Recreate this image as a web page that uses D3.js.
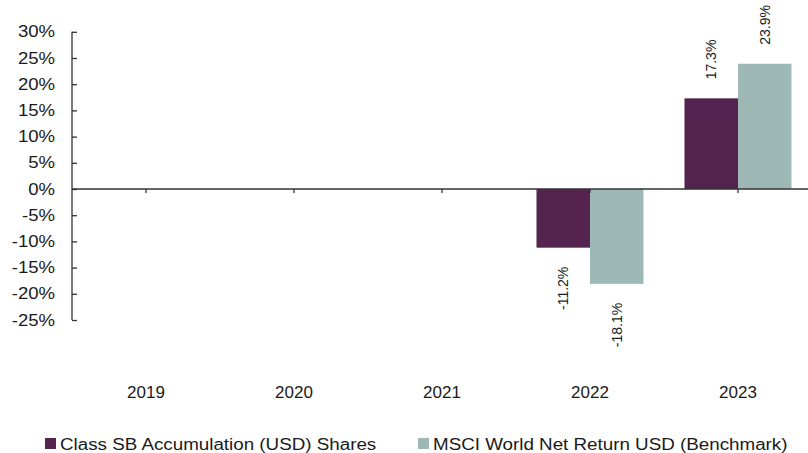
<!DOCTYPE html>
<html>
<head>
<meta charset="utf-8">
<script src="https://cdn.jsdelivr.net/npm/d3@7"></script>
<style>
  html, body { margin: 0; padding: 0; background: #fff; }
  svg { display: block; font-family: "Liberation Sans", Arial, sans-serif; }
</style>
</head>
<body>
<svg id="chart" width="808" height="453"></svg>
<script>
// Calendar-year performance
const years = ["2019", "2020", "2021", "2022", "2023"];
const seriesNames = ["Class SB Accumulation (USD) Shares", "MSCI World Net Return USD (Benchmark)"];
const fundReturns = [null, null, null, -11.2, 17.3];
const benchmarkReturns = [null, null, null, -18.1, 23.9];
const yTicks = [30, 25, 20, 15, 10, 5, 0, -5, -10, -15, -20, -25];
const colors = ["#55234f", "#9db8b5"];

const FONT = "Liberation Sans, Arial, sans-serif";
const svg = d3.select("#chart");
const plotLeft = 72, plotRight = 812, plotTop = 31.8, plotBottom = 320;

const x = d3.scaleBand().domain(years).range([plotLeft, plotRight]);
const inner = d3.scaleBand().domain([0, 1]).range([0, x.bandwidth()]).paddingInner(0).paddingOuter(0.383);
const y = d3.scaleLinear().domain([-25, 30]).range([plotBottom, plotTop]);

const rows = [];
years.forEach((yr, i) => {
  [fundReturns[i], benchmarkReturns[i]].forEach((v, s) => {
    if (v !== null) rows.push({ year: yr, series: s, value: v });
  });
});

// Bars
svg.append("g").selectAll("rect").data(rows).join("rect")
  .attr("x", d => x(d.year) + inner(d.series))
  .attr("width", inner.bandwidth())
  .attr("y", d => y(Math.max(0, d.value)))
  .attr("height", d => Math.abs(y(d.value) - y(0)))
  .attr("fill", d => colors[d.series]);

// Value labels, rotated, outside each bar end
const pct = d => d.toFixed(1) + "%";
svg.append("g").selectAll("text").data(rows).join("text")
  .attr("transform", d => {
    const cx = x(d.year) + inner(d.series) + inner.bandwidth() / 2 + 5;
    const cy = d.value >= 0 ? y(d.value) - 19 : y(d.value) + 19;
    return `translate(${cx},${cy}) rotate(-90)`;
  })
  .attr("text-anchor", d => d.value >= 0 ? "start" : "end")
  .attr("font-size", 14)
  .attr("fill", "#1a1a1a")
  .text(d => pct(d.value));

// Y axis (ticks point into the plot)
const yAxis = d3.axisLeft(y).tickValues(yTicks).tickSize(-5).tickFormat(d => d + "%");
const gy = svg.append("g").attr("transform", `translate(${plotLeft},0)`).call(yAxis);
gy.select(".domain").attr("stroke", "#333").attr("stroke-width", 1.3)
  .attr("d", `M0,${plotTop}V${plotBottom}`);
gy.selectAll(".tick line").attr("stroke", "#333").attr("stroke-width", 1.3);
gy.selectAll(".tick text")
  .attr("x", 0)
  .attr("transform", "translate(-17,0) scale(1.16,1)")
  .attr("font-size", 16).attr("fill", "#1a1a1a").attr("font-family", FONT);

// Zero line with category ticks
const gx = svg.append("g").attr("transform", `translate(0,${y(0)})`)
  .call(d3.axisBottom(x).tickSize(4).tickFormat(""));
gx.select(".domain").attr("stroke", "#333").attr("stroke-width", 1.5)
  .attr("d", `M${plotLeft},0H${plotRight}`);
gx.selectAll(".tick line").attr("stroke", "#333").attr("stroke-width", 1.3);

// Year labels below the plot
svg.append("g").selectAll("text").data(years).join("text")
  .attr("x", d => x(d) + x.bandwidth() / 2)
  .attr("y", 398)
  .attr("text-anchor", "middle")
  .attr("font-size", 17)
  .attr("fill", "#1a1a1a")
  .text(d => d);

// Legend
const legendX = [45, 418];
const lg = svg.append("g").selectAll("g").data(seriesNames).join("g")
  .attr("transform", (d, i) => `translate(${legendX[i]},438)`);
lg.append("rect").attr("width", 11).attr("height", 11).attr("fill", (d, i) => colors[i]);
lg.append("text")
  .attr("transform", "translate(15,11.5) scale(1.175,1)")
  .attr("font-size", 16).attr("fill", "#1a1a1a").text(d => d);
</script>
</body>
</html>
